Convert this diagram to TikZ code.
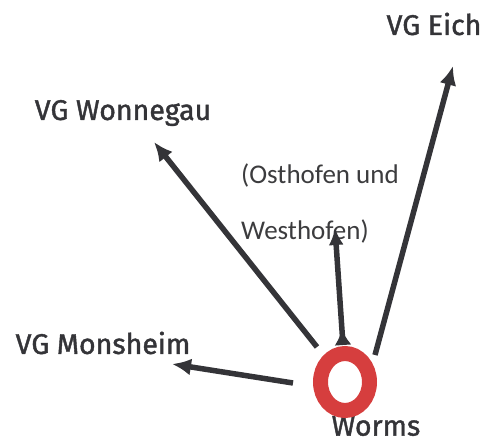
\documentclass[tikz,border=0pt]{standalone}
\usepackage{tikz}
\usetikzlibrary{arrows.meta,shapes.geometric}
\usepackage{fontspec}
\setmainfont{Fira Sans}
\newfontfamily\headfont[FakeBold=1.4]{Fira Sans}
\newfontfamily\notefont{Carlito}
\usepackage{xcolor}
\definecolor{ring}{RGB}{214, 62, 62}
\definecolor{ink}{RGB}{52, 52, 56}
\definecolor{note}{RGB}{60, 60, 62}

\begin{document}
\begin{tikzpicture}[x=1pt, y=-1pt,
    lbl/.style={text=ink, font=\headfont\fontsize{28.5}{31}\selectfont, inner sep=0pt},
    nt/.style={text=note, font=\notefont\fontsize{27}{30}\selectfont, inner sep=0pt},
    arr/.style={color=ink, line width=5.5pt, -{Latex[length=19pt,width=17pt]}}]
      \useasboundingbox (0, 0) rectangle (488, 443);
      \node[lbl] (eich) at (434, 24) {VG Eich};
      \node[lbl] (wonnegau) at (123, 113) {VG Wonnegau};
      \node[lbl] (monsheim) at (103, 343) {VG Monsheim};
      \node[lbl] (worms) at (376, 426) {Worms};
      \node[nt] (ost) at (320, 176) {(Osthofen und};
      \node[nt] (west) at (305, 232) {Westhofen)};
      \node[ellipse, draw=ring, line width=15pt, minimum width=49pt, minimum height=57pt] (ring) at (345, 382) {};
      \coordinate (eichtip) at (453, 66);
      \coordinate (wontip) at (154, 142);
      \coordinate (westtip) at (335, 228);
      \coordinate (montip) at (172, 364);
      \coordinate (a) at (375, 355);
      \coordinate (b) at (317, 347);
      \coordinate (c) at (343, 345);
      \coordinate (d) at (293, 383);
      \draw[arr] (a)--(eichtip);
      \draw[arr] (b)--(wontip);
      \draw[arr, {Latex[reversed,length=16pt,width=17pt]}-{Latex[length=17pt,width=15pt]}] (c)--(westtip);
      \draw[arr] (d)--(montip);
    \end{tikzpicture}
\end{document}
